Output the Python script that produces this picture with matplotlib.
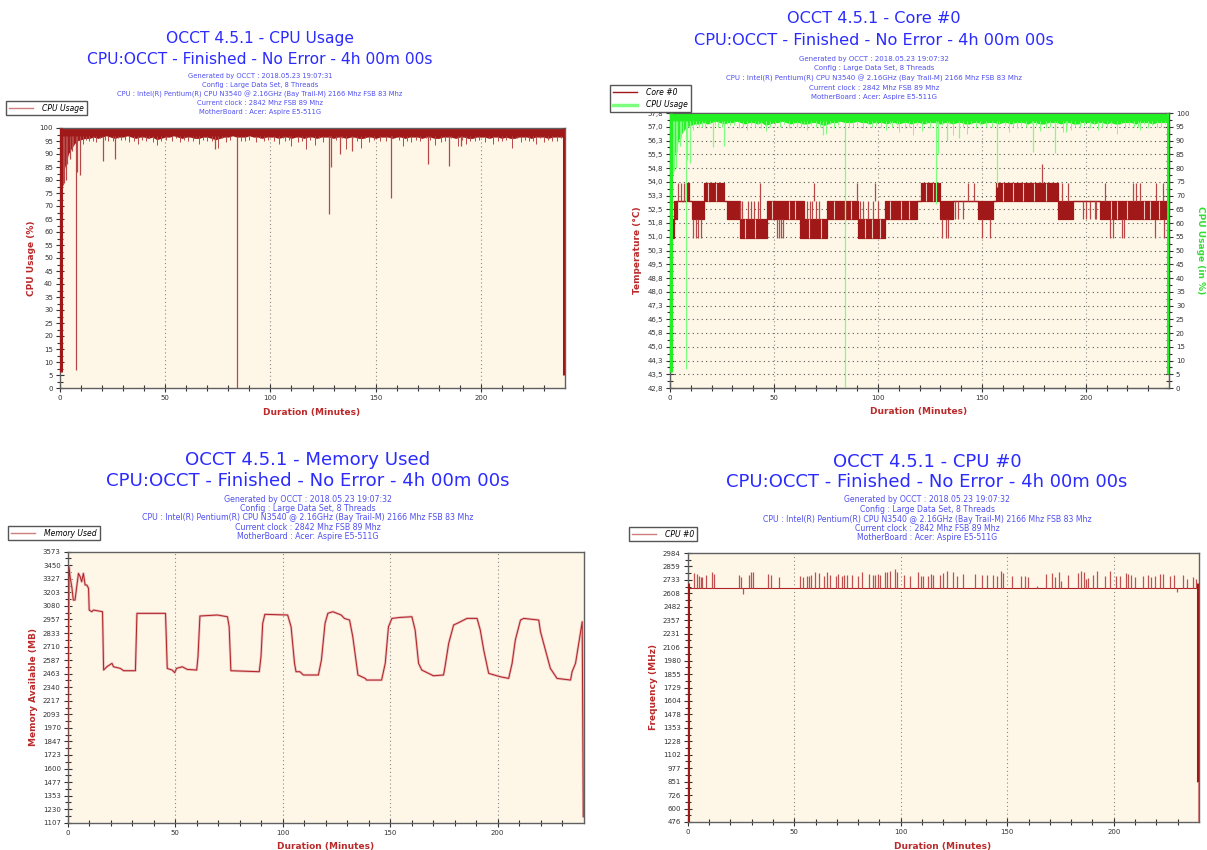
import numpy as np
import matplotlib
matplotlib.use("Agg")
import matplotlib.pyplot as plt
from matplotlib.lines import Line2D

W, H = 1207, 850

# ---------------- data ----------------
subtitle = "CPU:OCCT - Finished - No Error - 4h 00m 00s"
cpu_line = "CPU : Intel(R) Pentium(R) CPU N3540 @ 2.16GHz (Bay Trail-M) 2166 Mhz FSB 83 Mhz"
config_line = "Config : Large Data Set, 8 Threads"
clock_line = "Current clock : 2842 Mhz FSB 89 Mhz"
board_line = "MotherBoard : Acer: Aspire E5-511G"

# CPU usage (%) - dense band near 100, lower edge every 2 minutes
cpu_t = np.arange(0, 241, 2)
cpu_band_lo = [80, 84, 90, 93, 95, 95.5, 96, 96, 96.5, 96, 96.5, 97, 96.5, 96, 96.5, 96.5, 97, 96.5, 96, 96.5,
               96.5, 96, 96.5, 95.5, 96, 96.5, 96.5, 97, 96.5, 96, 96.5, 96.5, 96, 96, 96.5, 96.5, 96, 95.5, 96, 96.5,
               96.5, 97, 96.5, 96.5, 96.5, 97, 96.5, 96.5, 96, 96.5, 96.5, 96.5, 96, 96.5, 96.5, 96, 96.5, 96.5, 96, 96.5,
               96.5, 96, 96.5, 96.5, 96.5, 96, 96.5, 96.5, 96, 96.5, 96.5, 96, 96, 96.5, 96.5, 96, 96.5, 96.5, 96.5, 96,
               96.5, 96.5, 96, 96.5, 96.5, 96.5, 96, 96.5, 96.5, 96, 96, 96.5, 96.5, 96.5, 96, 96.5, 96.5, 96, 96, 96.5,
               96.5, 96.5, 96, 96.5, 96.5, 96, 96.5, 96, 96, 96.5, 96.5, 96.5, 96, 96.5, 96.5, 96.5, 96, 96.5, 96.5, 96.5,
               96.5]
cpu_minor_t = [11, 14, 17, 23, 29, 33, 37, 41, 44, 46, 53, 57, 61, 66, 70, 75, 79, 88, 93, 97,
               104, 107, 110, 113, 117, 121, 125, 136, 143, 147, 152, 163, 167, 171, 178, 181, 189, 193, 197, 202,
               206, 210, 215, 219, 223, 226, 230, 234,
               12.5, 15.5, 19, 21.5, 25, 27.5, 31, 35, 39, 42.5, 48, 50.5, 55, 59, 63, 64.5, 68, 72, 77, 81,
               86, 90, 95, 99, 101.5, 106, 109, 115, 119, 123, 128, 131, 134, 139, 141, 145, 149, 155, 158, 161,
               165, 169, 174, 176, 183, 186, 191, 195, 199, 204, 208, 212, 217, 221, 225, 228, 232, 236, 238]
cpu_minor_v = [94, 95, 94.5, 95, 95.5, 94.5, 94, 95, 94.5, 93.5, 95, 94.5, 95, 94, 95, 92.5, 94.5, 95, 94.5, 95,
               94, 95, 93, 94.5, 92, 93.5, 94.5, 92, 92.5, 94.5, 95, 93, 94.5, 95, 93.5, 94.5, 93, 94, 95, 94.5,
               94, 95, 92.5, 94.5, 95, 94, 94.5, 95,
               95.5, 95, 96, 95.5, 95, 96, 95.5, 95, 95.5, 96, 95, 95.5, 96, 95.5, 95, 96, 95.5, 95, 96, 95.5,
               95, 95.5, 96, 95.5, 95, 96, 95.5, 95, 95.5, 96, 95, 95.5, 96, 95.5, 95, 96, 95.5, 95, 96, 95.5,
               95, 95.5, 96, 95.5, 95, 96, 95.5, 95, 95.5, 96, 95, 95.5, 96, 95.5, 95, 96, 95.5, 95, 96]
cpu_spike_t = [1.3, 2.0, 2.8, 3.5, 4.8, 5.5, 6.2, 7.5, 8.3, 9.6, 20.5, 26.0, 73.7, 84.0,
               127.7, 128.8, 133.3, 139.0, 157.5, 174.8, 185.0, 190.6]
cpu_spike_v = [78, 79, 80, 86, 88, 91, 93, 7, 83, 82, 87.5, 88, 92, 0,
               67, 85, 90, 91, 73, 86, 85.5, 93]
cpu_edge_t = [0.4, 239.6]
cpu_edge_v = [6, 5]

# Core #0 temperature (deg C): blocks where the reading toggles between two levels
temp_seg_start = [0.6, 2.0, 3.5, 7.5, 9.3, 10.4, 16.2, 26.0, 27.6, 33.5, 46.5, 62.5, 64.5, 75.3, 90.5, 103.4,
                  119.0, 120.5, 129.8, 136.0, 148.2, 155.4, 157.0, 186.7, 194.0, 207.0]
temp_seg_lo = [51, 52, 53, 53, 53, 52, 53, 53, 52, 51, 52, 51, 51, 52, 51, 52,
               53, 53, 52, 53, 52, 53, 53, 52, 53, 52]
temp_seg_hi = [52, 53, 53, 54, 53, 53, 54, 53, 53, 52, 53, 53, 52, 53, 52, 53,
               53, 54, 53, 53, 53, 53, 54, 53, 53, 53]
temp_end = 239.4
temp_spike_t = [0.2, 0.45, 4.0, 5.3, 6.5, 11.0, 12.5, 13.5, 15.0, 33.8, 34.6, 37.5, 39.0, 40.5, 42.5, 43.3,
                51.5, 52.3, 53.5, 54.5, 66.0, 67.5, 68.5, 69.2, 70.0, 71.5, 89.7, 91.5, 93.0, 95.0, 97.5, 98.8,
                100.0, 131.0, 132.7, 133.8, 136.9, 138.6, 141.0, 143.4, 146.1, 150.3, 153.8, 178.7, 188.5, 191.5,
                198.7, 200.3, 201.9, 204.3, 205.1, 209.0, 211.4, 213.0, 217.5, 218.3, 222.7, 224.3, 225.9, 233.2,
                233.9, 237.0, 237.4]
temp_spike_lo = [43.6, 45.0, 53, 53, 53, 51, 51, 51, 51, 52, 52, 52, 52, 52, 52, 52,
                 51, 51, 51, 51, 52, 52, 52, 53, 52, 52, 53, 52, 52, 52, 52, 53,
                 52, 51, 51, 51, 52, 52, 52, 53, 53, 51, 51, 54, 53, 53,
                 52, 52, 52, 52, 52, 53, 51, 51, 51, 51, 53, 53, 53, 51,
                 53, 53, 51]
temp_spike_hi = [46.8, 51.0, 54, 54, 54, 52, 52, 52, 52, 53, 53, 53, 53, 53, 53, 54,
                 52, 52, 52, 52, 53, 53, 53, 54, 53, 53, 54, 53, 53, 53, 53, 54,
                 53, 52, 52, 52, 53, 53, 53, 54, 54, 52, 52, 55, 54, 54,
                 53, 53, 53, 53, 53, 54, 52, 52, 52, 52, 54, 54, 54, 52,
                 54, 54, 52]
# short gaps inside the toggling blocks (reading held on one level)
temp_gap_t = [18.5, 22.0, 36.0, 41.0, 49.0, 57.0, 60.0, 67.0, 72.5, 79.0, 84.0, 87.0, 94.0, 97.0, 101.0,
              106.0, 111.0, 115.0, 123.0, 126.5, 160.0, 165.0, 170.0, 175.0, 181.0, 212.0, 215.0, 220.0,
              228.0, 231.0, 235.0]
temp_gap_lo = [53, 53, 51, 51, 52, 52, 52, 51, 51, 52, 52, 52, 51, 51, 51,
               52, 52, 52, 53, 53, 53, 53, 53, 53, 53, 52, 52, 52,
               52, 52, 52]
temp_gap_hi = [54, 54, 52, 52, 53, 53, 53, 52, 52, 53, 53, 53, 52, 52, 52,
               53, 53, 53, 54, 54, 54, 54, 54, 54, 54, 53, 53, 53,
               53, 53, 53]
temp_ticks = [42.8, 43.55, 44.3, 45.05, 45.8, 46.55, 47.3, 48.05, 48.8, 49.55, 50.3,
              51.05, 51.8, 52.55, 53.3, 54.05, 54.8, 55.55, 56.3, 57.05, 57.8]
temp_labels = ["42,8", "43,5", "44,3", "45,0", "45,8", "46,5", "47,3", "48,0", "48,8", "49,5", "50,3",
               "51,0", "51,8", "52,5", "53,3", "54,0", "54,8", "55,5", "56,3", "57,0", "57,8"]

# Memory used (MB)
mem_t = [0, 0.6, 1.1, 1.9, 2.6, 3.4, 4.2, 5.0, 5.8, 6.5,
         7.3, 8.1, 8.9, 9.7, 10.0, 11.2, 12.0, 16.2, 16.7, 18.2,
         20.6, 21.3, 24.5, 26.0, 31.5, 32.2, 45.5, 46.3, 48.6, 49.8,
         50.6, 53.3, 55.6, 60.0, 60.6, 61.5, 69.6, 74.3, 75.1, 75.9,
         89.1, 89.9, 90.7, 91.7, 102.3, 103.9, 105.5, 106.2, 108.0, 109.6,
         116.6, 118.0, 119.7, 121.0, 123.3, 127.2, 128.7, 131.1, 132.6, 135.0,
         138.4, 139.0, 146.0, 147.7, 149.2, 150.8, 154.7, 160.1, 161.6, 163.2,
         164.7, 170.1, 174.8, 175.5, 177.2, 179.5, 181.8, 185.7, 190.4, 191.9,
         193.5, 195.8, 201.2, 205.1, 206.7, 208.2, 210.6, 212.1, 219.1, 219.9,
         222.2, 224.5, 227.6, 233.9, 234.6, 236.2, 237.7, 239.3, 239.8]
mem_v = [1616, 3436, 3345, 3254, 3133, 3133, 3254, 3376, 3345, 3300,
         3376, 3270, 3270, 3239, 3042, 3027, 3042, 3027, 2496, 2526,
         2557, 2526, 2511, 2490, 2490, 3012, 3012, 2511, 2496, 2472,
         2511, 2526, 2502, 2496, 2617, 2988, 2997, 2981, 2890, 2490,
         2481, 2617, 2921, 3003, 2997, 2890, 2557, 2481, 2481, 2451,
         2451, 2587, 2921, 3012, 3027, 2997, 2966, 2951, 2799, 2451,
         2420, 2405, 2405, 2557, 2890, 2966, 2975, 2981, 2860, 2557,
         2496, 2444, 2451, 2526, 2739, 2906, 2927, 2966, 2966, 2860,
         2678, 2466, 2435, 2420, 2557, 2769, 2951, 2966, 2951, 2845,
         2678, 2511, 2420, 2405, 2481, 2557, 2739, 2936, 1162]
mem_ticks = [1107, 1230.3, 1353.6, 1476.9, 1600.2, 1723.5, 1846.8, 1970.1, 2093.4, 2216.7, 2340,
             2463.3, 2586.6, 2709.9, 2833.2, 2956.5, 3079.8, 3203.1, 3326.4, 3449.7, 3573]
mem_labels = ["1107", "1230", "1353", "1477", "1600", "1723", "1847", "1970", "2093", "2217", "2340",
              "2463", "2587", "2710", "2833", "2957", "3080", "3203", "3327", "3450", "3573"]

# CPU #0 frequency (MHz)
freq_base = 2660
freq_spike_t = [3.0, 4.2, 5.5, 6.1, 6.7, 8.6, 11.4, 12.5, 23.9, 24.9, 26.1, 28.6, 29.9, 30.8, 37.9, 39.0,
                42.7, 52.7, 54.3, 56.2, 57.0, 58.1, 59.9, 61.5, 64.0, 65.3, 66.8, 69.6, 70.6, 72.6, 73.6, 74.6,
                77.0, 80.0, 82.0, 85.3, 87.2, 88.1, 89.4, 90.3, 92.8, 93.7, 95.0, 97.2, 98.4,
                101.3, 104.4, 108.3, 109.4, 110.3, 113.0, 114.1, 115.3, 118.2, 120.0, 121.6, 124.4, 126.3, 129.1,
                134.9, 138.0, 140.7, 143.2, 145.1, 147.0, 148.2, 152.1, 156.4, 158.4, 159.5, 163.9, 168.2, 170.9,
                172.5, 174.5, 175.4, 178.6, 183.4, 184.5, 185.8, 187.0, 188.1, 190.2, 192.2, 196.1, 198.3, 201.1,
                203.0, 205.5, 206.7, 208.0, 209.9, 213.6, 216.1, 217.4, 219.3, 221.8, 223.3, 226.5, 228.3, 229.9,
                232.7, 234.3, 237.4, 238.4]
freq_spike_v = [2794, 2788, 2773, 2764, 2764, 2782, 2809, 2788, 2782, 2764, 2599, 2779, 2803, 2803, 2788, 2779,
                2757, 2770, 2764, 2773, 2770, 2779, 2803, 2794, 2773, 2809, 2776, 2767, 2788, 2773, 2782, 2779,
                2782, 2770, 2803, 2788, 2779, 2779, 2788, 2782, 2803, 2809, 2818, 2834, 2803,
                2782, 2770, 2803, 2770, 2773, 2773, 2788, 2782, 2782, 2800, 2812, 2809, 2770, 2788,
                2788, 2779, 2782, 2779, 2773, 2812, 2797, 2773, 2770, 2773, 2757, 2672, 2788, 2794,
                2764, 2803, 2727, 2779, 2794, 2818, 2803, 2742, 2748, 2782, 2818, 2773, 2818, 2773,
                2773, 2794, 2788, 2779, 2764, 2773, 2782, 2764, 2770, 2788, 2788, 2773, 2782, 2620,
                2779, 2742, 2757, 2739]
freq_edge_t = [0.3, 239.6]
freq_edge_v = [476, 850]
freq_ticks = [476, 601.4, 726.8, 852.2, 977.6, 1103, 1228.4, 1353.8, 1479.2, 1604.6, 1730,
              1855.4, 1980.8, 2106.2, 2231.6, 2357, 2482.4, 2607.8, 2733.2, 2858.6, 2984]
freq_labels = ["476", "600", "726", "851", "977", "1102", "1228", "1353", "1478", "1604", "1729",
               "1855", "1980", "2106", "2231", "2357", "2482", "2608", "2733", "2859", "2984"]

# ---------------- style ----------------
RED = "#a01818"
LIGHT_RED = "#cf7c7c"
GREEN = "#22f022"
LIGHT_GREEN = "#7cff7c"
BG = "#fef7e8"
TITLE_C = "#2b2bff"
INFO_C = "#5050f0"
LABEL_C = "#bb2a2a"
TICK_C = "#333333"

plt.rcParams["font.family"] = ["DejaVu Sans"]
fig = plt.figure(figsize=(W / 100, H / 100), dpi=100)
fig.patch.set_facecolor("white")


def add_panel(left, top, right, bottom):
    return fig.add_axes([left / W, 1 - bottom / H, (right - left) / W, (bottom - top) / H])


def header(cx, ys, title, stamp, tsize, isize):
    texts = [title, subtitle, "Generated by OCCT : " + stamp, config_line, cpu_line, clock_line, board_line]
    for i, (y, s) in enumerate(zip(ys, texts)):
        big = i < 2
        fig.text(cx / W, 1 - y / H, s, ha="center", va="center",
                 fontsize=tsize if big else isize, color=TITLE_C if big else INFO_C)


def style_axes(ax, yticks, ylabels, hgrid=False):
    ax.set_facecolor(BG)
    ax.set_xlim(0, 240)
    ax.set_xticks([0, 50, 100, 150, 200])
    ax.set_xticks(np.arange(10, 240, 10), minor=True)
    ax.set_ylim(yticks[0], yticks[-1])
    ax.set_yticks(yticks)
    ax.set_yticklabels(ylabels)
    mids = [(a + b) / 2 for a, b in zip(yticks[:-1], yticks[1:])]
    ax.set_yticks(mids, minor=True)
    ax.tick_params(which="both", direction="inout", colors=TICK_C, labelsize=5, width=0.8,
                   top=False, right=False)
    ax.tick_params(which="major", length=6, pad=2)
    ax.tick_params(which="minor", length=4)
    for s in ax.spines.values():
        s.set_color("#606060")
        s.set_linewidth(1.0)
    for x in [50, 100, 150, 200]:
        ax.axvline(x, color="#8a8a8a", lw=0.8, ls=(0, (1, 2.5)), zorder=0.5)
    if hgrid:
        for y in yticks[1:-1]:
            ax.axhline(y, color="#555555", lw=0.8, ls=(0, (1, 3)), zorder=0.5)


def legend(x, y, handles, labels):
    fig.legend(handles, labels, loc="upper left", bbox_to_anchor=(x / W, 1 - y / H),
               borderaxespad=0, prop={"style": "italic", "size": 5.5},
               handlelength=3.2, handletextpad=1.2, borderpad=0.35, labelspacing=0.5,
               frameon=True, fancybox=False, edgecolor="#555555", framealpha=1)


def draw_cpu(ax, dark, light):
    ax.fill_between(cpu_t, cpu_band_lo, 100, color=dark, lw=0, zorder=2)
    ax.vlines(cpu_minor_t, cpu_minor_v, 97, color=light, lw=0.7, zorder=2)
    ax.vlines(cpu_spike_t, cpu_spike_v, 97, color=light, lw=0.9, zorder=2)
    ax.vlines(cpu_edge_t, cpu_edge_v, 100, color=dark, lw=2.2, zorder=3)


xlab = dict(fontsize=6.5, fontweight="bold", color=LABEL_C, ha="center", va="center")

# ---------- panel 1: CPU usage ----------
ax1 = add_panel(60, 128, 565, 388)
style_axes(ax1, list(range(0, 101, 5)), [str(v) for v in range(0, 101, 5)])
draw_cpu(ax1, RED, "#b84848")
header(260, [38.3, 59.3, 76, 85.3, 94, 102.7, 112], "OCCT 4.5.1 - CPU Usage", "2018.05.23 19:07:31", 11.2, 4.85)
fig.text(31 / W, 1 - 258 / H, "CPU Usage (%)", rotation=90, **xlab)
fig.text(312 / W, 1 - 413 / H, "Duration (Minutes)", **xlab)
legend(6, 101, [Line2D([], [], color=LIGHT_RED, lw=1)], ["CPU Usage"])

# ---------- panel 2: Core #0 temperature + CPU usage ----------
ax2 = add_panel(670, 113, 1169, 388)
style_axes(ax2, temp_ticks, temp_labels, hgrid=True)
ts = temp_seg_start + [temp_end]
lo = temp_seg_lo + [temp_seg_lo[-1]]
hi = temp_seg_hi + [temp_seg_hi[-1]]
ax2.fill_between(ts, lo, hi, step="post", color=RED, lw=0, zorder=2)
ax2.step(ts, lo, where="post", color=RED, lw=0.9, zorder=2)
ax2.step(ts, hi, where="post", color=RED, lw=0.9, zorder=2)
ax2.vlines(temp_gap_t, temp_gap_lo, temp_gap_hi, color="#e9c2b8", lw=0.8, zorder=2.1)
ax2.vlines(temp_spike_t, temp_spike_lo, temp_spike_hi, color="#b84848", lw=0.9, zorder=2.2)
ax2r = ax2.twinx()
ax2r.set_ylim(0, 100)
ax2r.set_yticks(range(0, 101, 5))
ax2r.set_yticks(np.arange(2.5, 100, 5), minor=True)
ax2r.tick_params(which="both", direction="inout", colors=TICK_C, labelsize=5, width=0.8)
ax2r.tick_params(which="major", length=6, pad=2)
ax2r.tick_params(which="minor", length=4)
for s in ax2r.spines.values():
    s.set_color("#606060")
draw_cpu(ax2r, GREEN, LIGHT_GREEN)
header(874, [18.3, 40.7, 58.7, 68.3, 78.3, 88.3, 97.3], "OCCT 4.5.1 - Core #0", "2018.05.23 19:07:32", 11.6, 5.0)
fig.text(637 / W, 1 - 250 / H, "Temperature (°C)", rotation=90, **xlab)
fig.text(1201 / W, 1 - 250 / H, "CPU Usage (in %)", rotation=270,
         fontsize=6.5, fontweight="bold", color="#33dd33", ha="center", va="center")
fig.text(919 / W, 1 - 412 / H, "Duration (Minutes)", **xlab)
legend(610, 85, [Line2D([], [], color=RED, lw=1), Line2D([], [], color=LIGHT_GREEN, lw=2.5)],
       ["Core #0", "CPU Usage"])

# ---------- panel 3: memory used ----------
ax3 = add_panel(67.7, 551.7, 583.7, 822.7)
style_axes(ax3, mem_ticks, mem_labels)
ax3.plot(mem_t, mem_v, color="#eab8b8", lw=1.8, zorder=2)
ax3.plot(mem_t, mem_v, color="#b02222", lw=0.7, zorder=3)
header(308, [460, 481, 499, 508.3, 517.7, 527.7, 536.7], "OCCT 4.5.1 - Memory Used", "2018.05.23 19:07:32", 13.1, 5.7)
fig.text(33 / W, 1 - 687 / H, "Memory Available (MB)", rotation=90, **xlab)
fig.text(326 / W, 1 - 846 / H, "Duration (Minutes)", **xlab)
legend(8, 526, [Line2D([], [], color=LIGHT_RED, lw=1)], ["Memory Used"])

# ---------- panel 4: CPU #0 frequency ----------
ax4 = add_panel(687.7, 553, 1199, 822)
style_axes(ax4, freq_ticks, freq_labels)
ax4.hlines(freq_base, 0.3, 239.6, color="#b02222", lw=0.8, zorder=2)
ax4.vlines(freq_spike_t, freq_base, freq_spike_v, color="#c05050", lw=0.9, zorder=2)
ax4.vlines(freq_edge_t, freq_edge_v, freq_base + 40, color=RED, lw=2.2, zorder=3)
ax4.vlines([239.8], 476, freq_edge_v[1], color=LIGHT_RED, lw=1.5, zorder=3)
header(927, [461.7, 482.3, 500, 509.3, 519, 528.3, 537.7], "OCCT 4.5.1 - CPU #0", "2018.05.23 19:07:32", 13.0, 5.6)
fig.text(653 / W, 1 - 687 / H, "Frequency (MHz)", rotation=90, **xlab)
fig.text(943 / W, 1 - 846 / H, "Duration (Minutes)", **xlab)
legend(629, 527, [Line2D([], [], color=LIGHT_RED, lw=1)], ["CPU #0"])

fig.savefig("out.png", dpi=100)
